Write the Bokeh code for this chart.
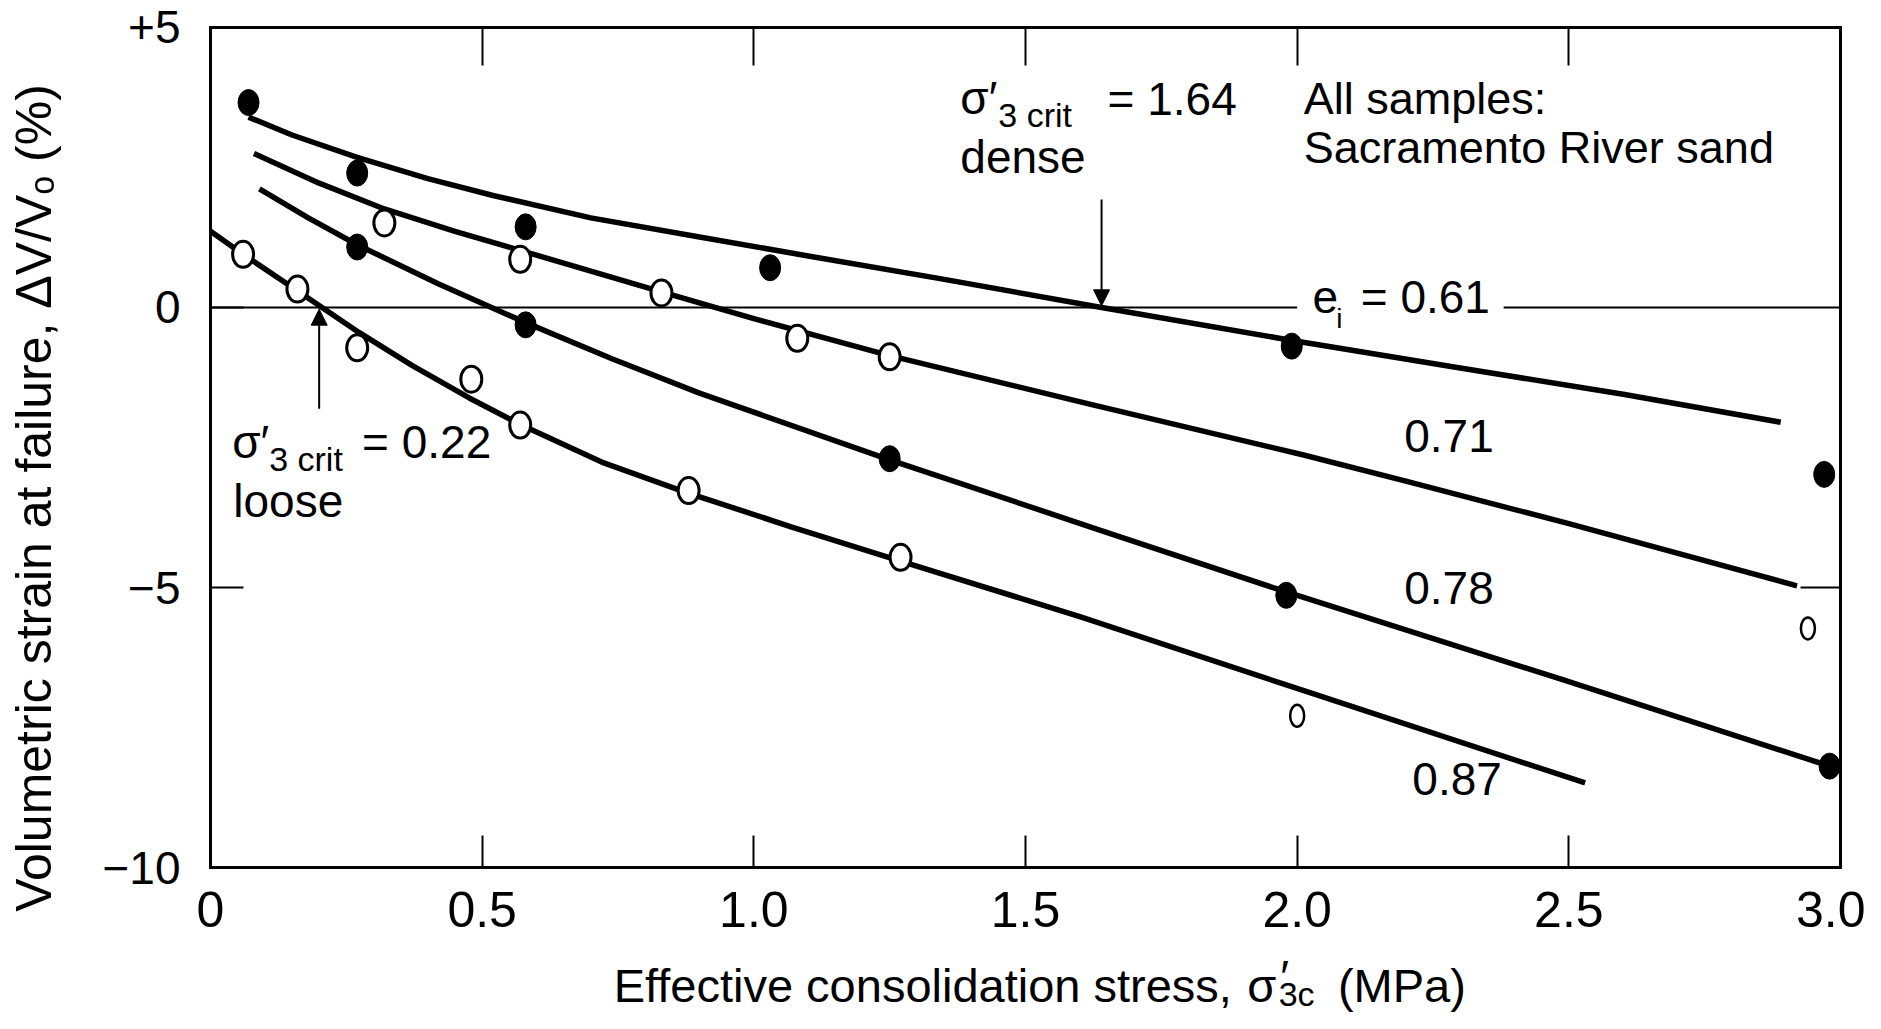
import math
from bokeh.plotting import figure
from bokeh.models import (Range1d, LinearAxis, FixedTicker, Label,
                          BoxAnnotation, Arrow, NormalHead)
from bokeh.embed import file_html
from bokeh.resources import INLINE

# ---------------- data ----------------
x_ticks = [0, 0.5, 1.0, 1.5, 2.0, 2.5, 3.0]
x_tick_labels = ["0", "0.5", "1.0", "1.5", "2.0", "2.5", "3.0"]
y_ticks = [-10, -5, 0, 5]
y_tick_labels = ["\u221210", "\u22125", "0", "+5"]
inner_x_ticks = [0.5, 1.0, 1.5, 2.0, 2.5]
inner_y_ticks = [-5]

# e_i = 0.61 (dense, filled symbols)
pts061_x = [0.07, 0.27, 0.58, 1.03, 1.99, 2.97]
pts061_y = [3.66, 2.40, 1.44, 0.71, -0.69, -2.98]
fit061_x = [0.07, 0.15, 0.27, 0.40, 0.52, 0.70, 0.90, 1.10, 1.34, 1.64, 1.98, 2.30, 2.60, 2.89]
fit061_y = [3.40, 3.08, 2.68, 2.30, 2.00, 1.60, 1.26, 0.92, 0.52, 0.00, -0.57, -1.08, -1.55, -2.05]

# e_i = 0.71 (open symbols)
pts071_x = [0.32, 0.57, 0.83, 1.08, 1.25]
pts071_y = [1.51, 0.86, 0.26, -0.55, -0.88]
off071_x = [2.94]
off071_y = [-5.73]
fit071_x = [0.08, 0.20, 0.32, 0.45, 0.57, 0.70, 0.83, 1.00, 1.25, 1.62, 2.01, 2.20, 2.50, 2.92]
fit071_y = [2.75, 2.22, 1.76, 1.36, 1.02, 0.65, 0.28, -0.20, -0.86, -1.73, -2.63, -3.10, -3.86, -4.97]

# e_i = 0.78 (filled symbols)
pts078_x = [0.27, 0.58, 1.25, 1.98, 2.98]
pts078_y = [1.08, -0.31, -2.70, -5.14, -8.19]
fit078_x = [0.09, 0.18, 0.27, 0.42, 0.58, 0.74, 0.90, 1.25, 1.62, 1.98, 2.49, 2.98]
fit078_y = [2.12, 1.60, 1.12, 0.42, -0.27, -0.92, -1.53, -2.72, -3.92, -5.08, -6.65, -8.19]

# e_i = 0.87 (loose, open symbols)
pts087_x = [0.06, 0.16, 0.27, 0.48, 0.57, 0.88, 1.27]
pts087_y = [0.95, 0.33, -0.72, -1.28, -2.10, -3.27, -4.46]
off087_x = [2.00]
off087_y = [-7.29]
fit087_x = [0.00, 0.06, 0.155, 0.274, 0.37, 0.477, 0.572, 0.72, 0.875, 1.07, 1.27, 1.60, 1.98, 2.53]
fit087_y = [1.36, 0.95, 0.33, -0.45, -1.03, -1.62, -2.10, -2.76, -3.30, -3.92, -4.53, -5.52, -6.74, -8.49]

# critical confining stresses marked by arrows (dense, loose)
crit_x = [1.64, 0.20]

FONT = "Liberation Sans"

# the frame spans the whole canvas; the chart box (0..3, -10..+5) is drawn by
# four fixed-location axes so that every title stays inside the drawable area
X0, X1 = -0.3865, 3.046
Y0, Y1 = -12.607, 5.482

p = figure(width=1865, height=1013,
           x_range=Range1d(X0, X1), y_range=Range1d(Y0, Y1),
           output_backend="svg", toolbar_location=None,
           x_axis_location=None, y_axis_location=None, min_border=0)
p.grid.visible = False
p.background_fill_color = "white"
p.border_fill_color = "white"
p.outline_line_color = None


def make_axis(ticks, tick_in, loc, bounds, overrides=None, font_size=None,
              standoff=0, line_width=3):
    ax = LinearAxis(ticker=FixedTicker(ticks=ticks, minor_ticks=[]),
                    fixed_location=loc, bounds=bounds)
    ax.major_tick_in = tick_in
    ax.major_tick_out = 0
    ax.minor_tick_in = 0
    ax.minor_tick_out = 0
    ax.axis_line_width = line_width
    ax.axis_line_color = "black"
    ax.axis_line_cap = "square"
    ax.major_tick_line_width = 2
    ax.major_tick_line_color = "black"
    if overrides is None:
        ax.major_label_text_color = None
        ax.major_label_text_font_size = "1px"
        ax.major_label_standoff = 0
    else:
        ax.major_label_overrides = overrides
        ax.major_label_text_font = FONT
        ax.major_label_text_font_size = font_size
        ax.major_label_text_color = "black"
        ax.major_label_standoff = standoff
    return ax


p.add_layout(make_axis(x_ticks, 32, -10, (0, 3), dict(zip(x_ticks, x_tick_labels)),
                       "50px", 24), "below")
p.add_layout(make_axis(y_ticks, 33, 0, (-10, 5), dict(zip(y_ticks, y_tick_labels)),
                       "46px", 30), "left")
p.add_layout(make_axis(inner_x_ticks, 38, 5, (0, 3)), "above")
p.add_layout(make_axis(inner_y_ticks, 40, 3.0, (-10, 5)), "right")
# zero reference line
p.add_layout(make_axis([], 0, 0, (0, 3), line_width=2), "below")
# gap in the zero line behind the e_i label
p.add_layout(BoxAnnotation(left=2.0, right=2.38, bottom=-0.13, top=0.13,
                           fill_color="white", fill_alpha=1.0,
                           line_color=None))

# fitted curves
for fx, fy in [(fit061_x, fit061_y), (fit071_x, fit071_y),
               (fit078_x, fit078_y), (fit087_x, fit087_y)]:
    p.line(fx, fy, line_color="black", line_width=5.5, line_join="round")

# symbols
for px_, py_ in [(pts061_x, pts061_y), (pts078_x, pts078_y)]:
    p.ellipse(px_, py_, width=21, height=26, width_units="screen",
              height_units="screen", fill_color="black", line_color="black",
              line_width=1)
for px_, py_ in [(pts071_x, pts071_y), (pts087_x, pts087_y)]:
    p.ellipse(px_, py_, width=21, height=26, width_units="screen",
              height_units="screen", fill_color="white", line_color="black",
              line_width=3)
for px_, py_ in [(off071_x, off071_y), (off087_x, off087_y)]:
    p.ellipse(px_, py_, width=14, height=22, width_units="screen",
              height_units="screen", fill_color="white", line_color="black",
              line_width=2.5)

# arrows at the critical confining stresses
p.add_layout(Arrow(end=NormalHead(size=16, fill_color="black", line_color="black"),
                   x_start=crit_x[0], y_start=1.93, x_end=crit_x[0], y_end=0.03,
                   line_color="black", line_width=2))
p.add_layout(Arrow(end=NormalHead(size=16, fill_color="black", line_color="black"),
                   x_start=crit_x[1], y_start=-1.81, x_end=crit_x[1], y_end=-0.03,
                   line_color="black", line_width=2))


def lab(x, y, text, size, align="left", angle=0.0):
    # y is the vertical middle of the text line
    p.add_layout(Label(x=x, y=y, text=text, text_font=FONT,
                       text_font_size=f"{size}px", text_align=align,
                       text_baseline="middle", angle=angle,
                       text_color="black"))


# dense annotation
lab(1.380, 3.746, "\u03c3\u2032", 46)
lab(1.450, 3.429, "3 crit", 34)
lab(1.651, 3.716, "= 1.64", 46)
lab(1.380, 2.686, "dense", 46)

# loose annotation
lab(0.040, -2.394, "\u03c3\u2032", 46)
lab(0.108, -2.711, "3 crit", 34)
lab(0.279, -2.394, "= 0.22", 46)
lab(0.042, -3.454, "loose", 46)

# sample note
lab(2.012, 3.73, "All samples:", 45)
lab(2.012, 2.85, "Sacramento River sand", 45)

# void-ratio labels
lab(2.028, 0.186, "e", 46)
lab(2.072, -0.20, "i", 28)
lab(2.117, 0.186, "= 0.61", 46)
lab(2.197, -2.30, "0.71", 46)
lab(2.197, -5.00, "0.78", 46)
lab(2.212, -8.42, "0.87", 46)

# axis titles
lab(0.742, -12.107, "Effective consolidation stress,", 47)
lab(1.908, -12.107, "\u03c3", 47)
lab(1.969, -11.946, "\u2032", 47)
lab(1.966, -12.25, "3c", 34)
lab(2.075, -12.107, "(MPa)", 47)
lab(-0.324, -3.40, "Volumetric strain at failure, \u0394V/V\u2092 (%)", 50,
    align="center", angle=math.pi / 2)

open("out.html", "w").write(file_html(p, INLINE))
